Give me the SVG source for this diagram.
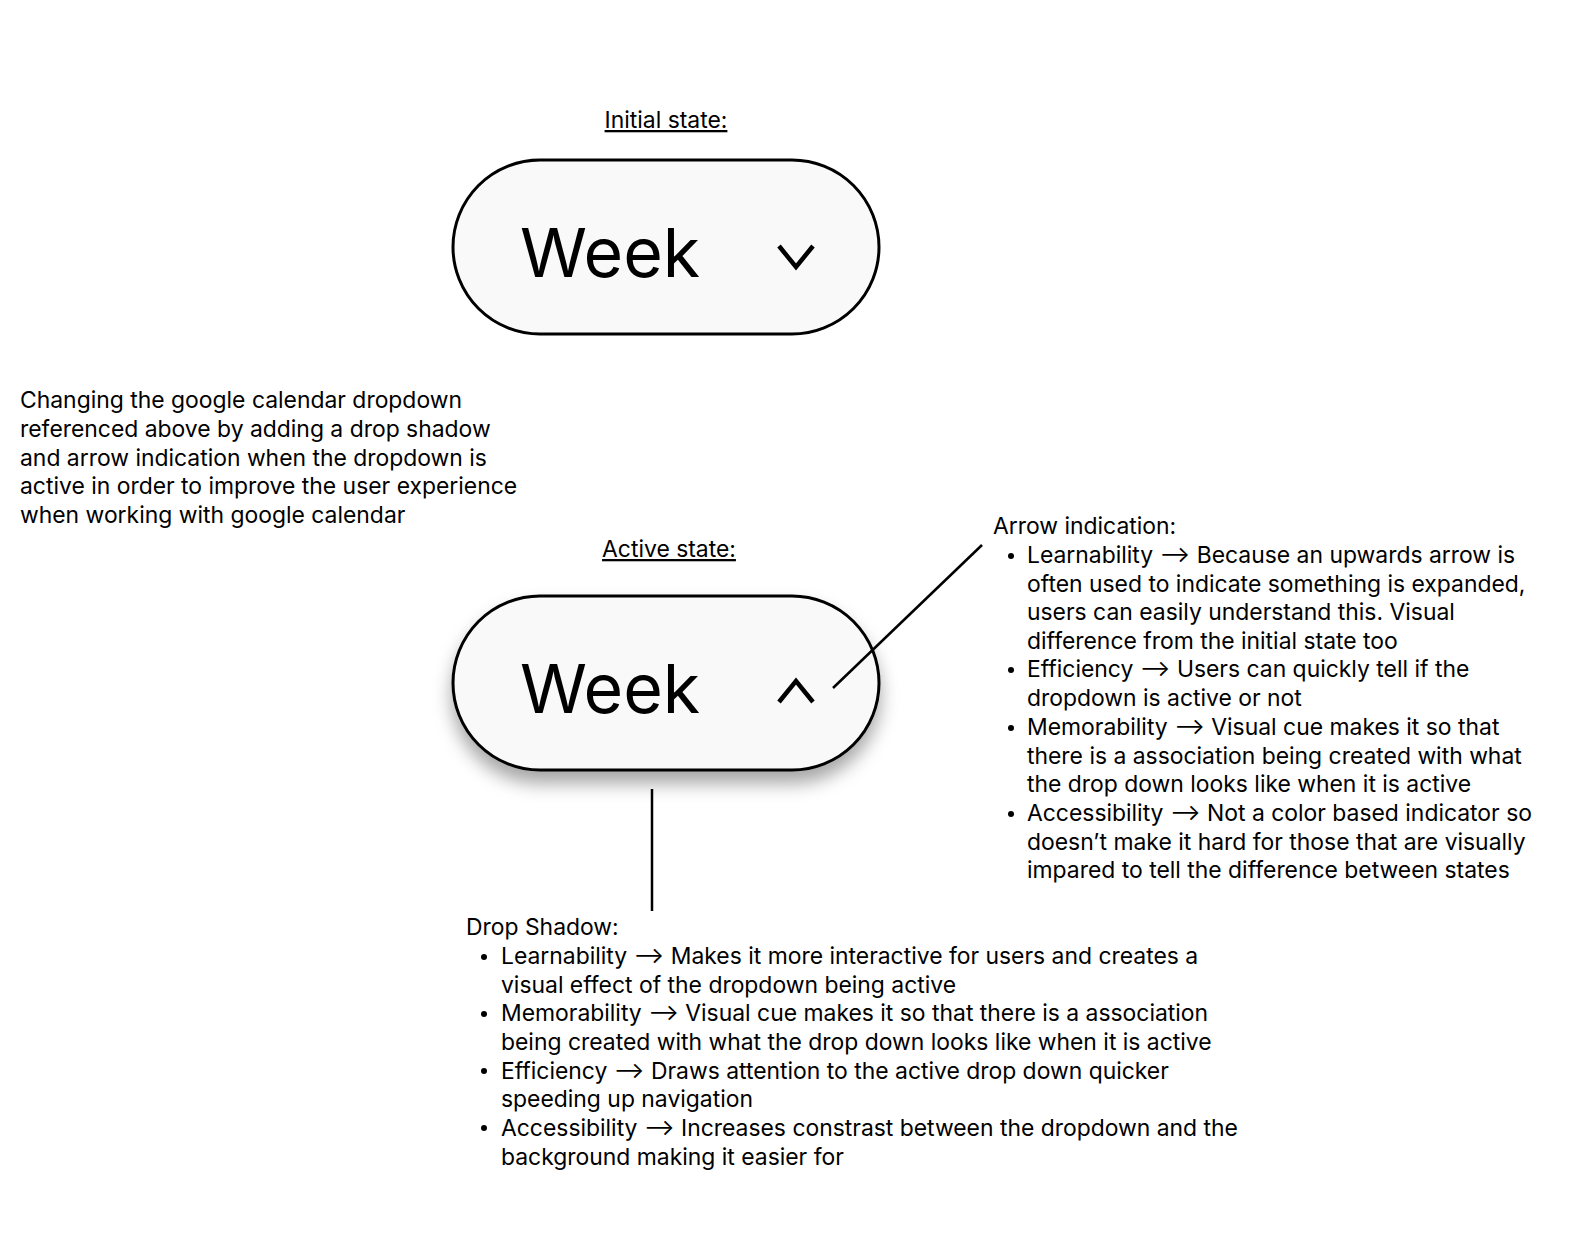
<svg xmlns="http://www.w3.org/2000/svg" width="1570" height="1242" viewBox="0 0 1570 1242">
<defs>
<style>
text{font-family:Inter,"Noto Sans","Liberation Sans",sans-serif;fill:#000}
.t{font-size:22.9px}
.h{font-size:22.9px;text-decoration:underline}
.w{font-size:68px}
.pill{fill:#f9f9f9;stroke:#000;stroke-width:3}
.chev{fill:none;stroke:#000;stroke-width:4.5}
.ln{stroke:#000;stroke-width:2.5;fill:none}
</style>
<filter id="sh" x="-20%" y="-30%" width="140%" height="170%">
<feDropShadow dx="0" dy="12" stdDeviation="9" flood-color="#000" flood-opacity="0.35"/>
</filter>
</defs>
<rect width="1570" height="1242" fill="#fff"/>
<g id="initial-label"><text class="h" x="666" y="128" text-anchor="middle">Initial state:</text></g>
<g id="initial-dropdown">
<rect class="pill" x="453" y="160" width="426" height="174" rx="87"/>
<text class="w" x="520" y="277">Week</text>
<polyline class="chev" points="779,246 796,267 813,246"/>
</g>
<g id="description">
<text class="t" x="20" y="408">Changing the google calendar dropdown</text>
<text class="t" x="20" y="437">referenced above by adding a drop shadow</text>
<text class="t" x="20" y="466">and arrow indication when the dropdown is</text>
<text class="t" x="20" y="494">active in order to improve the user experience</text>
<text class="t" x="20" y="523">when working with google calendar</text>
</g>
<g id="active-label"><text class="h" x="669" y="557" text-anchor="middle">Active state:</text></g>
<g id="active-dropdown">
<rect class="pill" x="453" y="596" width="426" height="174" rx="87" filter="url(#sh)"/>
<text class="w" x="520" y="713">Week</text>
<polyline class="chev" points="779,702 796,681 813,702"/>
</g>
<g id="connectors">
<line class="ln" x1="833" y1="688" x2="982" y2="545"/>
<line class="ln" x1="652" y1="789" x2="652" y2="911"/>
</g>
<g id="arrow-notes">
<text class="t" x="993" y="534">Arrow indication:</text>
<circle cx="1011" cy="556" r="3"/>
<circle cx="1011" cy="670" r="3"/>
<circle cx="1011" cy="728" r="3"/>
<circle cx="1011" cy="814" r="3"/>
<text class="t" x="1027" y="563">Learnability ⟶ Because an upwards arrow is</text>
<text class="t" x="1027" y="592">often used to indicate something is expanded,</text>
<text class="t" x="1027" y="620">users can easily understand this. Visual</text>
<text class="t" x="1027" y="649">difference from the initial state too</text>
<text class="t" x="1027" y="677">Efficiency ⟶ Users can quickly tell if the</text>
<text class="t" x="1027" y="706">dropdown is active or not</text>
<text class="t" x="1027" y="735">Memorability ⟶ Visual cue makes it so that</text>
<text class="t" x="1027" y="764">there is a association being created with what</text>
<text class="t" x="1027" y="792">the drop down looks like when it is active</text>
<text class="t" x="1027" y="821">Accessibility ⟶ Not a color based indicator so</text>
<text class="t" x="1027" y="850">doesn’t make it hard for those that are visually</text>
<text class="t" x="1027" y="878">impared to tell the difference between states</text>
</g>
<g id="shadow-notes">
<text class="t" x="466" y="935">Drop Shadow:</text>
<circle cx="484" cy="957" r="3"/>
<circle cx="484" cy="1014" r="3"/>
<circle cx="484" cy="1071" r="3"/>
<circle cx="484" cy="1128" r="3"/>
<text class="t" x="501" y="964">Learnability ⟶ Makes it more interactive for users and creates a</text>
<text class="t" x="501" y="993">visual effect of the dropdown being active</text>
<text class="t" x="501" y="1021">Memorability ⟶ Visual cue makes it so that there is a association</text>
<text class="t" x="501" y="1050">being created with what the drop down looks like when it is active</text>
<text class="t" x="501" y="1079">Efficiency ⟶ Draws attention to the active drop down quicker</text>
<text class="t" x="501" y="1107">speeding up navigation</text>
<text class="t" x="501" y="1136">Accessibility ⟶ Increases constrast between the dropdown and the</text>
<text class="t" x="501" y="1165">background making it easier for</text>
</g>
</svg>
